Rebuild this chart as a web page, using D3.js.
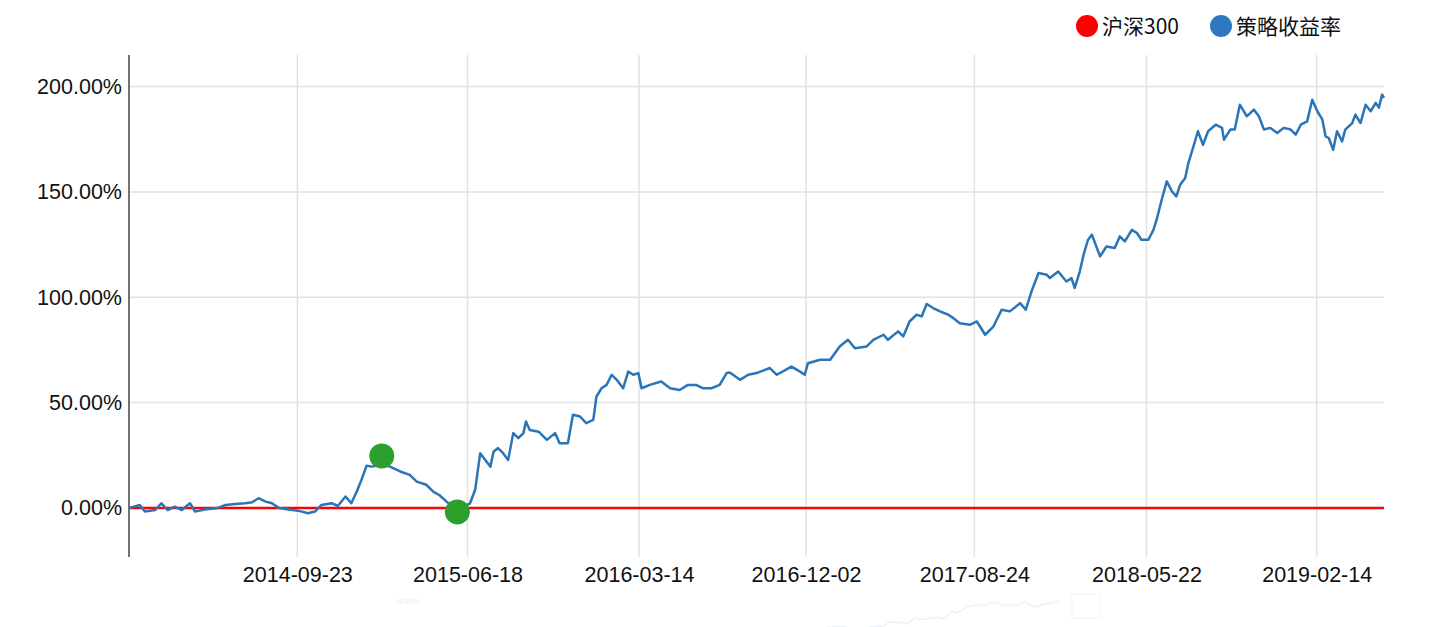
<!DOCTYPE html>
<html>
<head>
<meta charset="utf-8">
<script src="https://cdn.jsdelivr.net/npm/d3@7/dist/d3.min.js"></script>
<style>
  html, body { margin: 0; padding: 0; background: #fff; }
  svg { display: block; font-family: "Liberation Sans", Arial, "Noto Sans CJK SC", sans-serif; }
</style>
</head>
<body>
<svg width="1430" height="627"></svg>
<script>
// strategy cumulative return (%)
var dates = ["2014-01-02","2014-01-18","2014-01-26","2014-02-11","2014-02-21","2014-03-03","2014-03-14","2014-03-25","2014-04-07","2014-04-15",
  "2014-04-30","2014-05-21","2014-06-02","2014-06-17","2014-07-03","2014-07-14","2014-07-24","2014-08-04","2014-08-14","2014-08-25",
  "2014-09-09","2014-09-24","2014-10-10","2014-10-21","2014-10-31","2014-11-16","2014-11-26","2014-12-08","2014-12-17","2014-12-26",
  "2015-01-02","2015-01-10","2015-01-18","2015-02-03","2015-02-16","2015-03-04","2015-03-19","2015-03-30","2015-04-14","2015-04-25",
  "2015-05-05","2015-05-16","2015-05-26","2015-06-02","2015-06-11","2015-06-22","2015-06-30","2015-07-08","2015-07-16","2015-07-24",
  "2015-07-29","2015-08-05","2015-08-13","2015-08-21","2015-08-29","2015-09-06","2015-09-14","2015-09-18","2015-09-24","2015-10-08",
  "2015-10-21","2015-11-03","2015-11-10","2015-11-23","2015-12-01","2015-12-12","2015-12-22","2016-01-02","2016-01-07","2016-01-15",
  "2016-01-23","2016-01-31","2016-02-08","2016-02-18","2016-02-26","2016-03-05","2016-03-13","2016-03-18","2016-03-31","2016-04-18",
  "2016-05-02","2016-05-17","2016-05-30","2016-06-12","2016-06-23","2016-07-06","2016-07-19","2016-07-30","2016-08-04","2016-08-20",
  "2016-09-02","2016-09-15","2016-10-06","2016-10-17","2016-11-09","2016-11-22","2016-11-30","2016-12-05","2016-12-24","2017-01-09",
  "2017-01-24","2017-02-06","2017-02-17","2017-03-07","2017-03-18","2017-04-03","2017-04-10","2017-04-26","2017-05-04","2017-05-14",
  "2017-05-25","2017-06-02","2017-06-10","2017-06-20","2017-07-01","2017-07-14","2017-07-22","2017-08-01","2017-08-17","2017-08-28",
  "2017-09-10","2017-09-23","2017-10-06","2017-10-19","2017-11-04","2017-11-13","2017-11-22","2017-12-03","2017-12-16","2017-12-21",
  "2018-01-03","2018-01-16","2018-01-24","2018-01-29","2018-02-06","2018-02-12","2018-02-19","2018-02-25","2018-03-10","2018-03-20",
  "2018-04-02","2018-04-10","2018-04-18","2018-04-29","2018-05-07","2018-05-14","2018-05-25","2018-06-02","2018-06-07","2018-06-15",
  "2018-06-23","2018-07-01","2018-07-08","2018-07-14","2018-07-22","2018-07-27","2018-08-04","2018-08-11","2018-08-19","2018-08-27",
  "2018-09-08","2018-09-18","2018-09-21","2018-10-01","2018-10-08","2018-10-16","2018-10-27","2018-11-07","2018-11-15","2018-11-23",
  "2018-12-03","2018-12-14","2018-12-24","2019-01-04","2019-01-12","2019-01-20","2019-01-30","2019-02-07","2019-02-15","2019-02-23",
  "2019-02-28","2019-03-05","2019-03-12","2019-03-18","2019-03-26","2019-03-31","2019-04-11","2019-04-16","2019-04-24","2019-05-02",
  "2019-05-10","2019-05-18","2019-05-23","2019-05-28","2019-05-31"];
var strategy = [0, 1.4, -1.7, -1.0, 2.2, -1.0, 0.6, -1.0, 2.2, -1.7,
  -0.8, 0, 1.4, 1.9, 2.2, 2.7, 4.6, 3.0, 2.2, 0,
  -0.8, -1.3, -2.5, -1.7, 1.4, 2.2, 1.0, 5.4, 2.2, 8.0,
  13.3, 20.0, 19.6, 20.5, 19.6, 17.3, 15.7, 12.5, 11.0, 7.7,
  6.0, 3.0, 0.5, -1.0, 0.5, 2.2, 8.6, 26.0, 22.8, 19.6,
  26.7, 28.4, 26.0, 22.8, 35.5, 33.1, 35.5, 41.0, 37.0, 36.2,
  32.3, 35.5, 30.7, 30.7, 44.2, 43.4, 40.2, 41.8, 52.9, 56.8,
  58.4, 63.2, 60.8, 56.8, 64.7, 63.2, 64.0, 56.8, 58.4, 60.0,
  56.8, 56.0, 58.4, 58.4, 56.8, 56.8, 58.4, 64.0, 64.3, 60.8,
  63.2, 64.0, 66.4, 63.2, 67.1, 64.8, 63.2, 68.7, 70.3, 70.3,
  76.6, 79.8, 75.8, 76.6, 79.8, 82.2, 79.8, 83.8, 81.4, 88.5,
  91.7, 90.9, 96.8, 94.9, 93.3, 91.7, 90.1, 87.7, 86.9, 88.5,
  82.2, 86.1, 94.1, 93.3, 97.2, 94.1, 102.8, 111.5, 110.7, 109.1,
  112.2, 107.5, 109.1, 104.4, 112.2, 120.2, 127.3, 129.7, 119.4, 124.1,
  123.4, 128.9, 126.5, 132.0, 130.5, 127.3, 127.3, 132.0, 136.8, 146.3,
  155.0, 150.3, 147.9, 153.4, 156.6, 163.7, 171.6, 178.8, 172.4, 178.8,
  181.9, 180.4, 174.8, 179.6, 179.6, 191.4, 185.9, 189.1, 185.9, 179.6,
  180.4, 178.0, 180.4, 179.6, 177.2, 181.9, 183.5, 193.8, 188.3, 184.3,
  176.4, 175.6, 170.0, 178.8, 174.0, 179.6, 182.7, 186.7, 182.7, 191.4,
  188.3, 192.3, 190.0, 196.2, 194.6];

// benchmark (flat at zero in the picture)
var hs300Dates = ["2014-01-02", "2019-05-31"];
var hs300 = [0, 0];

// max drawdown markers
var markDates = ["2015-02-03", "2015-06-02"];
var markValues = [24.7, -1.9];

var xTickLabels = ["2014-09-23","2015-06-18","2016-03-14","2016-12-02","2017-08-24","2018-05-22","2019-02-14"];
var yTicks = [0, 50, 100, 150, 200];
var legendNames = ["沪深300", "策略收益率"];
var legendColors = ["#ff0000", "#2f78bf"];

var parse = d3.timeParse("%Y-%m-%d");
var svg = d3.select("svg");

var plotLeft = 129, plotRight = 1384, plotTop = 55, plotBottom = 557;

var x = d3.scaleTime()
    .domain([parse("2014-01-01"), parse("2019-05-31")])
    .range([plotLeft, plotRight]);
var y = d3.scaleLinear()
    .domain([-23.3, 215])
    .range([plotBottom, plotTop]);

// grid
svg.append("g").selectAll("line").data(xTickLabels).enter().append("line")
    .attr("x1", function(d) { return x(parse(d)); })
    .attr("x2", function(d) { return x(parse(d)); })
    .attr("y1", plotTop).attr("y2", plotBottom)
    .attr("stroke", "#e2e2e2").attr("stroke-width", 1.5);
svg.append("g").selectAll("line").data(yTicks).enter().append("line")
    .attr("x1", plotLeft).attr("x2", plotRight)
    .attr("y1", function(d) { return y(d); })
    .attr("y2", function(d) { return y(d); })
    .attr("stroke", "#e2e2e2").attr("stroke-width", 1.5);

// axes
var yAxis = svg.append("g")
    .attr("transform", "translate(" + plotLeft + ",0)")
    .call(d3.axisLeft(y).tickValues(yTicks).tickSize(0).tickPadding(7)
        .tickFormat(function(d) { return d.toFixed(2) + "%"; }));
yAxis.select(".domain").attr("stroke", "#444").attr("stroke-width", 1.5)
    .attr("d", "M0," + plotTop + "V" + plotBottom);
yAxis.selectAll("text").attr("font-size", 21.5).attr("fill", "#111")
    .attr("font-family", "Liberation Sans, Arial, sans-serif");

var xAxis = svg.append("g")
    .attr("transform", "translate(0," + plotBottom + ")")
    .call(d3.axisBottom(x).tickValues(xTickLabels.map(parse)).tickSize(0).tickPadding(10)
        .tickFormat(d3.timeFormat("%Y-%m-%d")));
xAxis.select(".domain").remove();
xAxis.selectAll("text").attr("font-size", 21.5).attr("fill", "#111")
    .attr("font-family", "Liberation Sans, Arial, sans-serif");

// faint context strip at the bottom
var mini = svg.append("g").attr("opacity", 0.09);
var yMini = d3.scaleLinear().domain([40, 200]).range([640, 600]);
var xMini = d3.scaleTime().domain(x.domain()).range([440, 1060]);
mini.append("path")
    .datum(strategy)
    .attr("fill", "none").attr("stroke", "#1f77b4").attr("stroke-width", 1.5)
    .attr("d", d3.line()
        .x(function(d, i) { return xMini(parse(dates[i])); })
        .y(function(d) { return yMini(d); }));
mini.append("text").attr("x", 420).attr("y", 604).attr("text-anchor", "end")
    .attr("font-size", 8).text("0.00%");
mini.append("rect").attr("x", 1072).attr("y", 594).attr("width", 28).attr("height", 24)
    .attr("fill", "none").attr("stroke", "#888");

// series
svg.append("path")
    .datum(hs300)
    .attr("fill", "none").attr("stroke", "#ff0000").attr("stroke-width", 2.5)
    .attr("d", d3.line()
        .x(function(d, i) { return x(parse(hs300Dates[i])); })
        .y(function(d) { return y(d); }));

svg.append("path")
    .datum(strategy)
    .attr("fill", "none").attr("stroke", "#2a74b8").attr("stroke-width", 2.5)
    .attr("stroke-linejoin", "round")
    .attr("d", d3.line()
        .x(function(d, i) { return x(parse(dates[i])); })
        .y(function(d) { return y(d); }));

svg.append("g").selectAll("circle").data(markValues).enter().append("circle")
    .attr("cx", function(d, i) { return x(parse(markDates[i])); })
    .attr("cy", function(d) { return y(d); })
    .attr("r", 12.5)
    .attr("fill", "#2ca02c");

// legend
var legendX = [1087, 1221];
var legend = svg.append("g").selectAll("g").data(legendNames).enter().append("g")
    .attr("transform", function(d, i) { return "translate(" + legendX[i] + ",26)"; });
legend.append("circle").attr("r", 11)
    .attr("fill", function(d, i) { return legendColors[i]; });
legend.append("text")
    .attr("x", 15).attr("dy", "0.36em")
    .attr("font-size", 21)
    .attr("font-family", "Noto Sans CJK SC, sans-serif")
    .attr("fill", "#111")
    .text(function(d) { return d; });
</script>
</body>
</html>
